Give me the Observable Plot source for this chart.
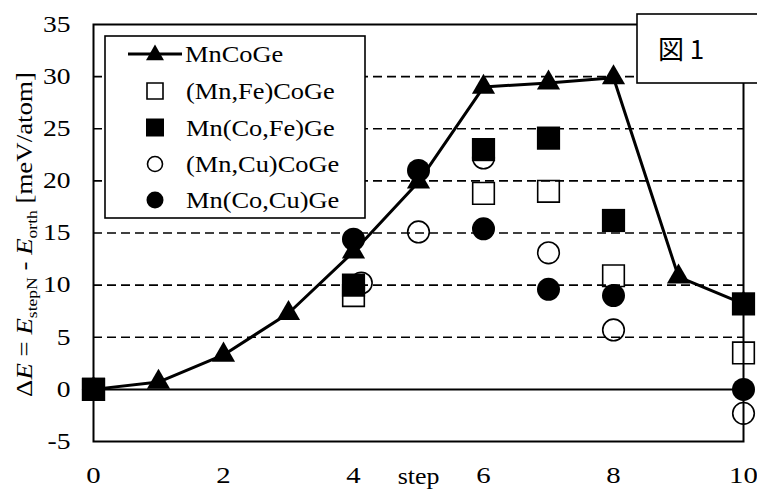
<!DOCTYPE html>
<html><head><meta charset="utf-8">
<script src="https://cdn.jsdelivr.net/npm/d3@7"></script>
<script src="https://cdn.jsdelivr.net/npm/@observablehq/plot@0.6"></script>
<style>
body{margin:0;background:#fff;}
#chart{position:relative;width:757px;height:490px;}
#chart svg text{font-family:'Liberation Serif','Times New Roman',serif;}
#chart svg text.fig{font-family:'Noto Sans CJK JP','Noto Sans',sans-serif;}
</style></head><body><div id="chart"></div>
<script>
// ---- data ----
const seriesNames = ["MnCoGe","(Mn,Fe)CoGe","Mn(Co,Fe)Ge","(Mn,Cu)CoGe","Mn(Co,Cu)Ge"];
const mnCoGeSteps = [0,1,2,3,4,5,6,7,8,9,10];
const mnCoGe      = [0,0.7,3.3,7.3,13.2,19.9,29.0,29.4,29.9,10.8,8.2];
const mnFeCoGeSteps = [0,4,6,7,8,10];
const mnFeCoGe      = [0,9.0,18.8,19.0,10.9,3.5];
const mnCoFeGeSteps = [0,4,6,7,8,10];
const mnCoFeGe      = [0,10.0,23.0,24.1,16.2,8.2];
const mnCuCoGeSteps = [0,4.12,5,6,7,8,10];
const mnCuCoGe      = [0,10.2,15.1,22.2,13.1,5.7,-2.3];
const mnCoCuGeSteps = [0,4,5,6,7,8,10];
const mnCoCuGe      = [0,14.4,21.0,15.4,9.6,9.0,0];
const gridValues = [5,10,15,20,25,30];
const xTicks = [0,2,4,6,8,10];
const yTicks = [-5,0,5,10,15,20,25,30,35];
const xLabel = "step";
const figLabel = "図 1";

const toRows = (xs, ys) => xs.map((x,i)=>({x, y: ys[i]}));
const rMnCoGe = toRows(mnCoGeSteps, mnCoGe);
const rMnFeCoGe = toRows(mnFeCoGeSteps, mnFeCoGe);
const rMnCoFeGe = toRows(mnCoFeGeSteps, mnCoFeGe);
const rMnCuCoGe = toRows(mnCuCoGeSteps, mnCuCoGe);
const rMnCoCuGe = toRows(mnCoCuGeSteps, mnCoCuGe);

const serif = "'Liberation Serif','Times New Roman',serif";

const plot = Plot.plot({
  width: 757, height: 490,
  marginLeft: 93, marginRight: 14, marginTop: 24, marginBottom: 49,
  x: {domain: [0,10]},
  y: {domain: [-5,35]},
  style: {fontFamily: serif, fontSize: "23px", color: "#000", background: "#fff", overflow: "visible"},
  marks: [
    Plot.ruleY(gridValues, {stroke: "#000", strokeWidth: 1.7, strokeDasharray: "9,5"}),
    Plot.ruleY([0], {stroke: "#000", strokeWidth: 2}),
    Plot.frame({stroke: "#000", strokeWidth: 2}),
    Plot.axisX({ticks: xTicks, tickSize: 0, tickPadding: 24, label: null, tickFormat: d => String(d), fontSize: 24}),
    Plot.axisY({ticks: yTicks, tickSize: 0, tickPadding: 23, label: null, tickFormat: d => String(d), fontSize: 23}),
    Plot.text([xLabel], {frameAnchor: "bottom", dy: 35, text: d => d, fontSize: 24, lineAnchor: "middle"}),
    Plot.line(rMnCoGe, {x: "x", y: "y", stroke: "#000", strokeWidth: 3}),
    Plot.dot(rMnCoGe, {x: "x", y: "y", symbol: "triangle", r: 8.6, fill: "#000", stroke: "none"}),
    Plot.dot(rMnFeCoGe, {x: "x", y: "y", symbol: "square", r: 12.2, fill: "none", stroke: "#000", strokeWidth: 1.6}),
    Plot.dot(rMnCoFeGe, {x: "x", y: "y", symbol: "square", r: 13.1, fill: "#000", stroke: "none"}),
    Plot.dot(rMnCuCoGe, {x: "x", y: "y", symbol: "circle", r: 10.8, fill: "none", stroke: "#000", strokeWidth: 1.6}),
    Plot.dot(rMnCoCuGe, {x: "x", y: "y", symbol: "circle", r: 11.5, fill: "#000", stroke: "none"})
  ]
});
document.getElementById("chart").appendChild(plot);

// horizontal stretch of text glyphs (reference text is wide-set)
function stretch(node, s) {
  const t = node.getAttribute("transform");
  if (t) node.setAttribute("transform", t + ` scale(${s},1)`);
  else {
    const x = +node.getAttribute("x") || 0, y = +node.getAttribute("y") || 0;
    node.setAttribute("transform", `translate(${x},${y}) scale(${s},1)`);
    node.removeAttribute("x"); node.removeAttribute("y");
  }
}
const svg = d3.select(plot);
svg.selectAll('g[aria-label="x-axis tick label"] text').each(function(){ stretch(this, 1.2); });
svg.selectAll('g[aria-label="y-axis tick label"] text').each(function(){ stretch(this, 1.2); });
svg.selectAll('g[aria-label="text"] text').each(function(){ stretch(this, 1.08); });

// y-axis label
const yl = svg.append("text")
  .attr("text-anchor", "middle")
  .attr("font-size", 23).attr("fill", "#000");
yl.append("tspan").text("Δ");
yl.append("tspan").attr("font-style","italic").text("E");
yl.append("tspan").text(" = ");
yl.append("tspan").attr("font-style","italic").text("E");
yl.append("tspan").attr("font-size", 15).attr("dy", 5).text("stepN");
yl.append("tspan").attr("dy", -5).text(" - ");
yl.append("tspan").attr("font-style","italic").text("E");
yl.append("tspan").attr("font-size", 15).attr("dy", 5).text("orth");
yl.append("tspan").attr("dy", -5).text(" [meV/atom]");
const ylLen = yl.node().getComputedTextLength();
yl.attr("transform", `translate(32,234.5) rotate(-90) scale(${325/ylLen},1)`);

// legend
const lg = svg.append("g");
lg.append("rect").attr("x",105).attr("y",36).attr("width",260).attr("height",182)
  .attr("fill","#fff").attr("stroke","#000").attr("stroke-width",1.6);
const rowY = [54, 91, 127.5, 164, 200];
const symX = 155, txtX = 185;
lg.append("line").attr("x1",128).attr("x2",182).attr("y1",rowY[0]).attr("y2",rowY[0]).attr("stroke","#000").attr("stroke-width",3);
const sym = (type, size) => d3.symbol(type, size)();
lg.append("path").attr("d", sym(d3.symbolTriangle, 140)).attr("transform",`translate(${symX},${rowY[0]+1})`).attr("fill","#000");
lg.append("path").attr("d", sym(d3.symbolSquare, 16*16)).attr("transform",`translate(${symX},${rowY[1]})`).attr("fill","none").attr("stroke","#000").attr("stroke-width",1.6);
lg.append("path").attr("d", sym(d3.symbolSquare, 18*18)).attr("transform",`translate(${symX},${rowY[2]})`).attr("fill","#000");
lg.append("path").attr("d", sym(d3.symbolCircle, Math.PI*7.5*7.5)).attr("transform",`translate(${symX},${rowY[3]})`).attr("fill","none").attr("stroke","#000").attr("stroke-width",1.6);
lg.append("path").attr("d", sym(d3.symbolCircle, Math.PI*8.5*8.5)).attr("transform",`translate(${symX},${rowY[4]})`).attr("fill","#000");
seriesNames.forEach((n,i)=>{
  lg.append("text").attr("dy","0.34em")
    .attr("text-anchor","start")
    .attr("transform", `translate(${i===0 ? txtX : txtX+1},${rowY[i]}) scale(1.1,1)`)
    .attr("font-size", 24).attr("fill","#000").text(n);
});

// figure label box
const fb = svg.append("g");
fb.append("rect").attr("x",637).attr("y",14).attr("width",140).attr("height",69)
  .attr("fill","#fff").attr("stroke","#000").attr("stroke-width",1.6);
fb.append("text").attr("class","fig").attr("x",658).attr("y",50).attr("dy","0.35em").attr("text-anchor","start")
  .attr("font-size",26).attr("fill","#000").text(figLabel);
</script>
</body></html>
